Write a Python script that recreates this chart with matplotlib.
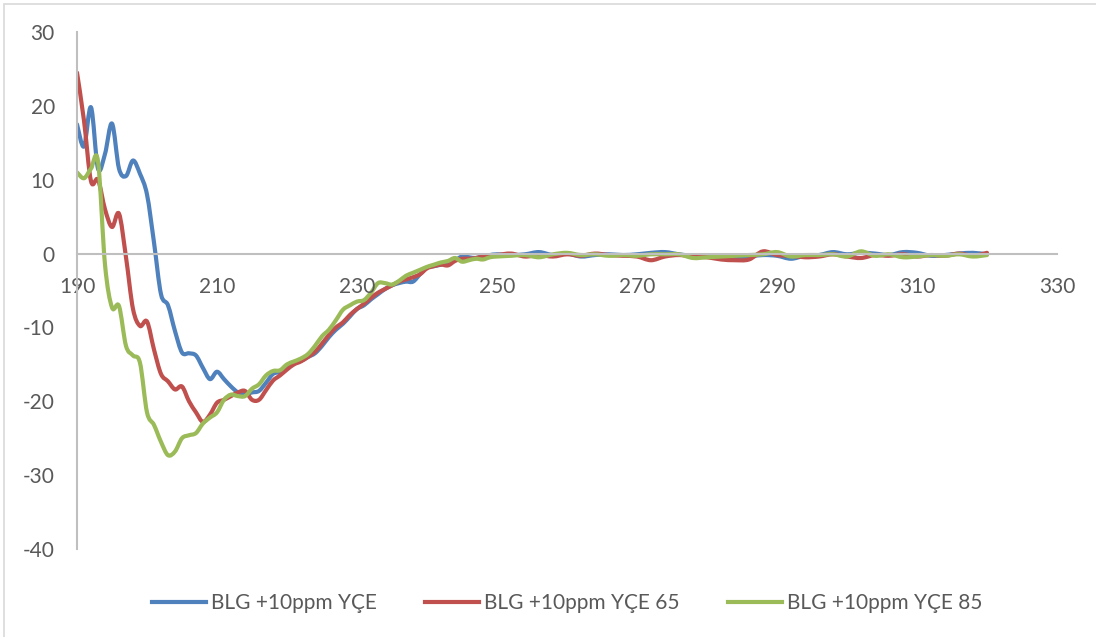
import numpy as np
import matplotlib.pyplot as plt
from matplotlib.patches import Rectangle, PathPatch
from matplotlib.path import Path
from matplotlib.lines import Line2D

# wavelength grid (nm): 1 nm steps up to 250, 2 nm steps afterwards
wavelength = np.concatenate([np.arange(190, 251), np.arange(252, 321, 2)])

blg_yce = [
    17.5, 14.5, 19.8, 11.5, 13.5, 17.6, 11.5, 10.5, 12.6, 10.8,
    8.0, 1.5, -5.5, -7.0, -10.5, -13.4, -13.5, -13.8, -15.5, -17.0,
    -16.0, -17.0, -18.0, -18.8, -19.0, -18.8, -18.6, -17.5, -16.3, -16.0,
    -15.3, -14.8, -14.5, -14.0, -13.5, -12.5, -11.3, -10.3, -9.5, -8.5,
    -7.5, -7.0, -6.2, -5.5, -4.8, -4.3, -4.0, -3.8, -3.8, -2.8,
    -1.9, -1.7, -1.5, -1.2, -0.9, -0.4, -0.5, -0.6, -0.3, -0.2,
    -0.1,
    -0.2, -0.1, 0.2, -0.2, 0.0, -0.4, -0.2, -0.1, -0.2, -0.1,
    0.1, 0.2, -0.1, -0.3, -0.3, -0.6, -0.7, -0.4, -0.2, -0.3,
    -0.7, -0.3, -0.2, 0.2, -0.1, 0.1, 0.0, -0.2, 0.2, 0.1,
    -0.3, -0.2, 0.0, 0.1, -0.1,
]

blg_yce_65 = [
    24.5, 18.0, 9.8, 10.0, 6.0, 3.6, 5.4, -0.5, -7.5, -9.8,
    -9.2, -13.0, -16.3, -17.3, -18.4, -18.0, -20.0, -21.5, -22.8, -21.8,
    -20.2, -19.8, -19.3, -18.8, -18.6, -19.8, -19.8, -18.5, -17.2, -16.5,
    -15.7, -15.0, -14.6, -14.0, -13.3, -12.2, -11.0, -10.0, -9.3, -8.3,
    -7.5, -6.8, -6.0, -5.3, -4.8, -4.3, -3.8, -3.5, -3.2, -2.8,
    -2.0, -1.7, -1.5, -1.6, -1.0, -0.7, -0.7, -0.6, -0.4, -0.3,
    -0.2,
    0.0, -0.4, -0.2, -0.4, -0.1, -0.3, 0.0, -0.2, -0.3, -0.4,
    -0.9, -0.4, -0.2, -0.4, -0.5, -0.8, -0.9, -0.8, 0.3, -0.2,
    -0.3, -0.5, -0.4, -0.1, -0.4, -0.6, -0.2, -0.3, -0.1, -0.4,
    -0.2, -0.3, 0.0, -0.3, 0.1,
]

blg_yce_85 = [
    11.0, 10.2, 11.5, 12.5, -1.5, -7.3, -7.1, -12.5, -13.8, -14.8,
    -21.5, -23.2, -25.5, -27.3, -26.8, -25.0, -24.6, -24.3, -23.0, -22.2,
    -21.5, -19.8, -19.1, -19.3, -19.3, -18.3, -17.7, -16.5, -15.9, -15.8,
    -15.0, -14.6, -14.2, -13.6, -12.5, -11.2, -10.3, -9.0, -7.6, -7.0,
    -6.5, -6.3, -5.3, -4.0, -4.0, -4.2, -3.7, -3.0, -2.6, -2.2,
    -1.8, -1.5, -1.2, -1.0, -0.6, -1.1, -0.9, -0.7, -0.8, -0.5,
    -0.4,
    -0.3, -0.2, -0.5, -0.1, 0.1, -0.2, -0.1, -0.3, -0.2, -0.3,
    -0.1, -0.1, -0.1, -0.6, -0.5, -0.4, -0.3, -0.2, -0.1, 0.2,
    -0.4, -0.2, -0.2, -0.1, -0.4, 0.3, -0.3, -0.1, -0.5, -0.4,
    -0.2, -0.3, -0.1, -0.4, -0.2,
]

series = [
    (blg_yce, 'BLG +10ppm YÇE', '#4F81BD'),
    (blg_yce_65, 'BLG +10ppm YÇE 65', '#C0504D'),
    (blg_yce_85, 'BLG +10ppm YÇE 85', '#9BBB59'),
]


def smooth_path(x, y):
    """Catmull-Rom style bezier through every point (like a smoothed line)."""
    pts = np.column_stack([x, y]).astype(float)
    n = len(pts)
    verts = [pts[0]]
    codes = [Path.MOVETO]
    for i in range(n - 1):
        p0 = pts[max(i - 1, 0)]
        p1 = pts[i]
        p2 = pts[i + 1]
        p3 = pts[min(i + 2, n - 1)]
        c1 = p1 + (p2 - p0) / 6.0
        c2 = p2 - (p3 - p1) / 6.0
        verts += [c1, c2, p2]
        codes += [Path.CURVE4] * 3
    return Path(verts, codes)


plt.rcParams['font.family'] = ['Lato', 'DejaVu Sans']
plt.rcParams['axes.unicode_minus'] = False
text_color = '#595959'
axis_color = '#BFBFBF'

fig = plt.figure(figsize=(10.96, 6.37), dpi=100)
ax = fig.add_axes([77 / 1096, 88 / 637, 980 / 1096, 517 / 637])

handles = []
for values, label, color in series:
    patch = PathPatch(smooth_path(wavelength, values), facecolor='none',
                      edgecolor=color, linewidth=3.0, capstyle='round',
                      joinstyle='round')
    ax.add_patch(patch)
    handles.append(Line2D([], [], color=color, linewidth=3.0, label=label))

ax.set_xlim(190, 330)
ax.set_ylim(-40, 30)
ax.set_xticks(np.arange(190, 331, 20))
ax.set_yticks(np.arange(-40, 31, 10))

for side in ['top', 'right']:
    ax.spines[side].set_visible(False)
ax.spines['bottom'].set_position(('data', 0))
ax.spines['bottom'].set_color(axis_color)
ax.spines['left'].set_color(axis_color)
ax.spines['bottom'].set_linewidth(1.5)
ax.spines['left'].set_linewidth(1.5)
ax.tick_params(axis='both', length=0, labelsize=15, colors=text_color)
ax.tick_params(axis='x', pad=17)
ax.tick_params(axis='y', pad=16)

fig.legend(handles=handles, loc='center', bbox_to_anchor=(0.5175, 1 - 603 / 637),
           ncol=3, frameon=False, fontsize=15, handlelength=2.6,
           columnspacing=2.3, labelcolor=text_color, handletextpad=0.25)

# chart area border
fig.patches.append(Rectangle((4 / 1096, -0.1), 1.2, 1.1 - 4 / 637,
                             transform=fig.transFigure, fill=False,
                             edgecolor='#D9D9D9', linewidth=1.2))

fig.savefig('out.png', dpi=100)
